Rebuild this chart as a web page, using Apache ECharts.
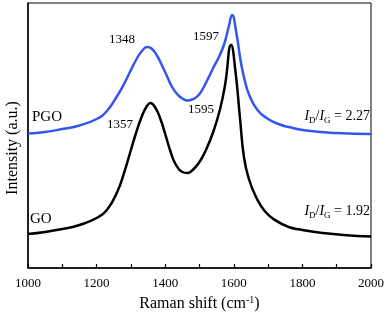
<!DOCTYPE html>
<html>
<head>
<meta charset="utf-8">
<script src="https://cdn.jsdelivr.net/npm/echarts@6/dist/echarts.min.js"></script>
<style>
  html, body { margin: 0; padding: 0; background: #fff; }
  #chart { width: 387px; height: 321px; }
</style>
</head>
<body>
<div id="chart"></div>
<script>
// Raman spectra, intensity in arbitrary (offset) units
const goShift = [1000, 1050, 1100, 1150, 1200, 1230, 1260, 1280, 1300, 1315, 1330, 1345, 1357, 1370, 1385, 1400, 1415, 1430, 1450, 1465, 1480, 1500, 1520, 1540, 1560, 1575, 1592, 1605, 1618, 1630, 1645, 1665, 1690, 1720, 1760, 1800, 1860, 1920, 2000]
const goIntensity = [34, 36, 39, 43, 50, 58, 76, 95, 118, 135, 150, 161, 165, 161, 150, 134, 117, 104, 96, 95, 98, 106, 119, 136, 159, 184, 223, 196, 150, 110, 88, 71, 57, 48, 41, 38, 35, 33, 31.5]
const pgoShift = [1000, 1050, 1100, 1150, 1200, 1230, 1260, 1280, 1300, 1315, 1330, 1348, 1360, 1375, 1390, 1405, 1420, 1435, 1450, 1466, 1485, 1500, 1520, 1540, 1558, 1572, 1585, 1595, 1607, 1621, 1631, 1645, 1669, 1700, 1730, 1760, 1810, 1900, 2000]
const pgoIntensity = [134.5, 136, 139, 142.5, 149, 157, 172, 184, 198, 208, 216, 221, 219.5, 213, 203, 192, 181, 174, 169.5, 167.5, 169.5, 174, 186, 200, 212, 224, 241, 253, 236, 205, 189, 173, 158, 149, 144, 141, 137.5, 135, 134]
const xTicks = [1000, 1200, 1400, 1600, 1800, 2000]

const serif = '"Liberation Serif", "Times New Roman", serif'

const chart = echarts.init(document.getElementById('chart'))

function pairs (xs, ys) {
  return xs.map((x, i) => [x, ys[i]])
}

const ratioRich = {
  i: { font: 'italic 14px ' + serif, fill: '#000', lineHeight: 16 },
  s: { font: '9px ' + serif, fill: '#000', lineHeight: 16, verticalAlign: 'bottom', padding: [0, 0, -1, 0] },
  n: { font: '14px ' + serif, fill: '#000', lineHeight: 16 }
}

const option = {
  animation: false,
  grid: {
    left: 28,
    right: 15,
    top: 3,
    bottom: 53,
    show: true,
    borderColor: '#000',
    borderWidth: 1
  },
  xAxis: {
    type: 'value',
    min: 1000,
    max: 2000,
    interval: 100,
    name: 'Raman shift (cm{sup|-1})',
    nameLocation: 'middle',
    nameGap: 24,
    nameTextStyle: {
      fontFamily: serif,
      fontSize: 16,
      color: '#000',
      rich: {
        sup: { fontFamily: serif, fontSize: 10, color: '#000', verticalAlign: 'top', padding: [0, 0, 8, 0] }
      }
    },
    axisLine: { lineStyle: { color: '#000', width: 1.5 } },
    axisTick: { inside: true, length: 4, lineStyle: { color: '#000', width: 1.2 } },
    splitLine: { show: false },
    axisLabel: {
      margin: 9,
      fontFamily: serif,
      fontSize: 13,
      color: '#000',
      formatter: v => xTicks.includes(v) ? String(v) : ''
    }
  },
  yAxis: {
    type: 'value',
    min: 0,
    max: 265,
    axisLine: { show: true, lineStyle: { color: '#000', width: 1.5 } },
    axisTick: { show: false },
    axisLabel: { show: false },
    splitLine: { show: false }
  },
  series: [
    {
      name: 'PGO',
      type: 'line',
      data: pairs(pgoShift, pgoIntensity),
      smooth: 0.5,
      symbol: 'none',
      lineStyle: { color: '#3556ee', width: 2.5 }
    },
    {
      name: 'GO',
      type: 'line',
      data: pairs(goShift, goIntensity),
      smooth: 0.5,
      symbol: 'none',
      lineStyle: { color: '#000', width: 2.5 }
    }
  ],
  graphic: [
    {
      type: 'text', x: 13, y: 148, rotation: Math.PI / 2,
      style: { text: 'Intensity (a.u.)', font: '16px ' + serif, fill: '#000', align: 'center', verticalAlign: 'middle' }
    },
    { type: 'text', x: 122, y: 40, style: { text: '1348', font: '13px ' + serif, fill: '#000', align: 'center', verticalAlign: 'middle' } },
    { type: 'text', x: 206, y: 37, style: { text: '1597', font: '13px ' + serif, fill: '#000', align: 'center', verticalAlign: 'middle' } },
    { type: 'text', x: 120, y: 125, style: { text: '1357', font: '13px ' + serif, fill: '#000', align: 'center', verticalAlign: 'middle' } },
    { type: 'text', x: 201, y: 110, style: { text: '1595', font: '13px ' + serif, fill: '#000', align: 'center', verticalAlign: 'middle' } },
    { type: 'text', x: 32, y: 117, style: { text: 'PGO', font: '15px ' + serif, fill: '#000', align: 'left', verticalAlign: 'middle' } },
    { type: 'text', x: 30, y: 219, style: { text: 'GO', font: '15px ' + serif, fill: '#000', align: 'left', verticalAlign: 'middle' } },
    {
      type: 'text', x: 370, y: 116,
      style: { text: '{i|I}{s|D}{n|/}{i|I}{s|G}{n| = 2.27}', align: 'right', verticalAlign: 'middle', rich: ratioRich }
    },
    {
      type: 'text', x: 370, y: 211,
      style: { text: '{i|I}{s|D}{n|/}{i|I}{s|G}{n| = 1.92}', align: 'right', verticalAlign: 'middle', rich: ratioRich }
    }
  ]
}
chart.setOption(option)
</script>
</body>
</html>
